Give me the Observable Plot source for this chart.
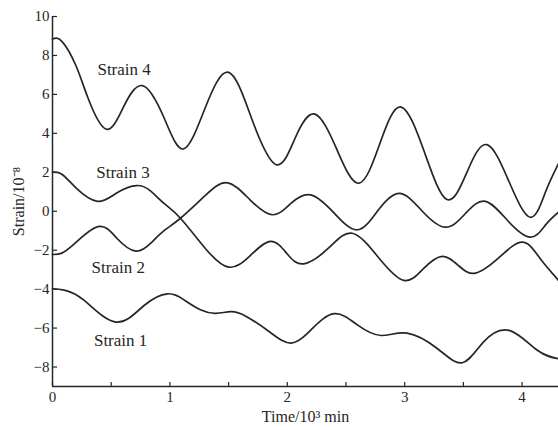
<!DOCTYPE html>
<html>
<head>
<meta charset="utf-8">
<script src="https://cdn.jsdelivr.net/npm/d3@7"></script>
<script src="https://cdn.jsdelivr.net/npm/@observablehq/plot@0.6"></script>
<style>
  html, body { margin: 0; padding: 0; background: #fff; }
  #chart svg { display: block; }
</style>
</head>
<body>
<div id="chart"></div>
<script>
// Time in 10^3 min, strain in 10^-8
const strain4 = [
  [0, 8.84], [0.08, 8.72], [0.2, 7.47], [0.3, 5.85], [0.454, 4.22], [0.6, 5.3], [0.766, 6.45],
  [0.95, 4.8], [1.117, 3.2], [1.3, 5.3], [1.50, 7.13], [1.7, 4.7], [1.906, 2.39], [2.07, 3.8],
  [2.235, 4.99], [2.42, 3.2], [2.61, 1.44], [2.79, 3.5], [2.97, 5.35], [3.17, 3.0], [3.36, 0.6],
  [3.53, 2.0], [3.70, 3.42], [3.89, 1.5], [4.07, -0.31], [4.2, 1.0], [4.31, 2.45]
];
const strain3 = [
  [0, 2.0], [0.08, 1.9], [0.2, 1.2], [0.383, 0.51], [0.55, 0.95], [0.717, 1.32], [0.837, 1.03],
  [0.95, 0.4], [1.09, -0.36], [1.3, -1.9], [1.50, -2.87], [1.68, -2.3], [1.858, -1.55], [2.0, -2.2],
  [2.14, -2.7], [2.35, -1.9], [2.553, -1.13], [2.78, -2.4], [2.993, -3.55], [3.16, -2.95],
  [3.319, -2.32], [3.46, -2.8], [3.603, -3.18], [3.8, -2.4], [4.0, -1.59], [4.15, -2.4], [4.31, -3.55]
];
const strain2 = [
  [0, -2.22], [0.08, -2.15], [0.2, -1.6], [0.397, -0.78], [0.55, -1.4], [0.709, -2.05], [0.837, -1.64],
  [0.95, -1.0], [1.09, -0.36], [1.3, 0.8], [1.489, 1.46], [1.68, 0.6], [1.872, -0.18], [2.03, 0.4],
  [2.2, 0.84], [2.4, -0.1], [2.60, -0.95], [2.78, 0.1], [2.96, 0.92], [3.15, 0.0], [3.347, -0.82],
  [3.52, -0.1], [3.688, 0.51], [3.88, -0.5], [4.07, -1.33], [4.2, -0.7], [4.31, -0.05]
];
const strain1 = [
  [0, -3.98], [0.1, -4.05], [0.27, -4.58], [0.54, -5.69], [0.78, -4.84], [0.98, -4.24],
  [1.12, -4.55], [1.26, -5.06], [1.39, -5.24], [1.52, -5.16], [1.65, -5.4], [1.85, -6.2], [2.03, -6.77],
  [2.2, -6.1], [2.40, -5.26], [2.6, -5.85], [2.8, -6.38], [3.02, -6.26], [3.28, -7.06],
  [3.49, -7.78], [3.67, -6.72], [3.89, -6.12], [4.13, -7.14], [4.31, -7.57]
];

const seriesNames = ["Strain 1", "Strain 2", "Strain 3", "Strain 4"];
const seriesData = [strain1, strain2, strain3, strain4];
const labelX = [0.58, 0.56, 0.60, 0.61];
const labelY = [-6.63, -2.87, 2.0, 7.3];

const xTicks = [0, 1, 2, 3, 4];
const xMinorTicks = [0.5, 1.5, 2.5, 3.5];
const yTicks = [-8, -6, -4, -2, 0, 2, 4, 6, 8, 10];
const xLabel = "Time/10\u00B3 min";
const yLabel = "Strain/10\u207B\u2078";

const rows = seriesData.flatMap((s, i) => s.map(([t, v]) => ({series: seriesNames[i], t, v})));
const labels = seriesNames.map((name, i) => ({name, t: labelX[i], v: labelY[i]}));

const ink = "#262626";
const chart = Plot.plot({
  width: 558,
  height: 430,
  marginLeft: 52,
  marginRight: 0,
  marginTop: 16,
  marginBottom: 44,
  style: {fontFamily: "'Liberation Serif', 'Times New Roman', serif", background: "#fff", color: ink},
  x: {domain: [0, 4.31]},
  y: {domain: [-9, 10]},
  marks: [
    Plot.axisX({ticks: xTicks, tickSize: -4, tickFormat: () => "", label: null, stroke: ink, strokeWidth: 1.2}),
    Plot.axisX({ticks: xMinorTicks, tickSize: -4, tickFormat: () => "", label: null, stroke: ink, strokeWidth: 1.2}),
    Plot.axisX({ticks: xTicks, tickSize: 0, tickPadding: 5, fontSize: 15, label: null, tickFormat: d => String(d)}),
    Plot.axisY({ticks: yTicks, tickSize: -5, tickFormat: () => "", label: null, stroke: ink, strokeWidth: 1.2}),
    Plot.axisY({ticks: yTicks, tickSize: 0, tickPadding: 3, fontSize: 15, label: null,
      tickFormat: d => d < 0 ? "\u2212" + Math.abs(d) : String(d)}),
    Plot.ruleX([0], {stroke: ink, strokeWidth: 1.5}),
    Plot.ruleY([-9], {stroke: ink, strokeWidth: 1.5}),
    Plot.line(rows, {x: "t", y: "v", z: "series", curve: "natural", stroke: ink, strokeWidth: 1.7}),
    Plot.text(labels, {x: "t", y: "v", text: "name", fontSize: 17, fill: ink}),
    Plot.text([xLabel], {frameAnchor: "bottom", textAnchor: "middle", lineAnchor: "middle", dy: 30, fontSize: 16, fill: ink}),
    Plot.text([yLabel], {frameAnchor: "left", textAnchor: "middle", lineAnchor: "middle", dx: -34, rotate: -90, fontSize: 16, fill: ink})
  ]
});
document.getElementById("chart").appendChild(chart);
</script>
</body>
</html>
